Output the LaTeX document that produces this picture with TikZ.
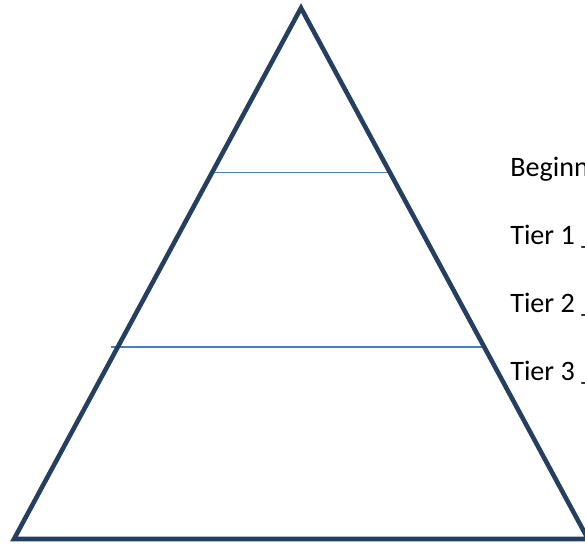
\documentclass[tikz,border=0pt]{standalone}
\usepackage{fontspec}
\setmainfont{Carlito}
\usepackage{xcolor}
\definecolor{outline}{HTML}{243F60}
\definecolor{tierline}{HTML}{4A7EBB}

\begin{document}
\begin{tikzpicture}[line join=miter]
    \useasboundingbox (0,0) rectangle (11.7,10.86);
    \clip (0,0) rectangle (11.7,10.86);

    \coordinate (apex) at (6.02,10.70);
    \coordinate (bl) at (0.28,0.08);
    \coordinate (br) at (11.76,0.08);

    \coordinate (t1l) at (4.30,7.41);
    \coordinate (t1r) at (7.80,7.41);
    \coordinate (t2l) at (2.22,3.92);
    \coordinate (t2r) at (9.70,3.92);

    \draw[tierline,line width=1.1pt] (t1l) -- (t1r);
    \draw[tierline,line width=1.1pt] (t2l) -- (t2r);
    \draw[outline,line width=2.6pt] (apex) -- (br) -- (bl) -- cycle;

    \node[anchor=base west,inner sep=0pt,font=\fontsize{16}{19}\selectfont] (beg) at (10.20,7.32) {Beginning};
    \node[anchor=base west,inner sep=0pt,font=\fontsize{16}{19}\selectfont] (tier1) at (10.20,5.96) {Tier 1 \_\_\_\_\_};
    \node[anchor=base west,inner sep=0pt,font=\fontsize{16}{19}\selectfont] (tier2) at (10.20,4.60) {Tier 2 \_\_\_\_\_};
    \node[anchor=base west,inner sep=0pt,font=\fontsize{16}{19}\selectfont] (tier3) at (10.20,3.24) {Tier 3 \_\_\_\_\_};
\end{tikzpicture}
\end{document}
